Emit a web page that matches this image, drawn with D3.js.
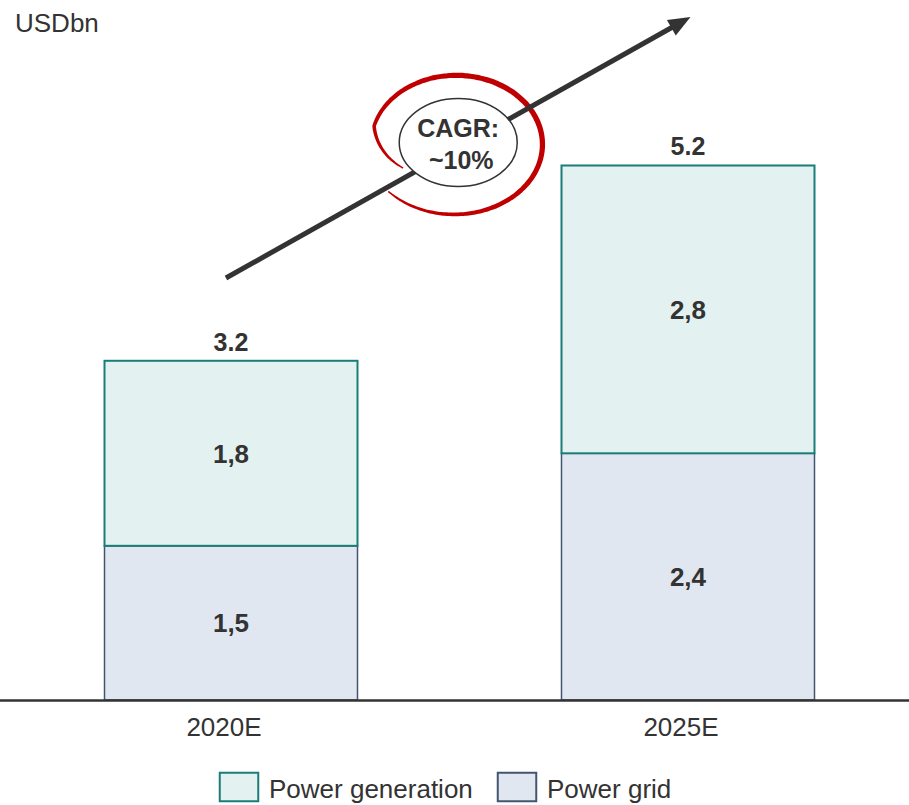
<!DOCTYPE html>
<html>
<head>
<meta charset="utf-8">
<script src="https://cdn.jsdelivr.net/npm/d3@7"></script>
<style>
  body { margin: 0; background: #fff; }
  svg text { font-family: "Liberation Sans", Arial, sans-serif; fill: #333; }
</style>
</head>
<body>
<svg id="chart"></svg>
<script>
// data
const years = ["2020E", "2025E"];
const powerGrid = [1.5, 2.4];
const powerGeneration = [1.8, 2.8];
const totalLabels = ["3.2", "5.2"];
const gridLabels = ["1,5", "2,4"];
const generationLabels = ["1,8", "2,8"];
const seriesNames = ["Power generation", "Power grid"];
const unitLabel = "USDbn";
const cagrLabel = ["CAGR:", "~10%"];

const width = 909, height = 805;
const baseY = 700;

const colors = {
    generation: { fill: "#e3f2f1", stroke: "#1a7d78" },
    grid: { fill: "#e1e7f1", stroke: "#44546f" }
};

const svg = d3.select("#chart")
    .attr("width", width)
    .attr("height", height);

var x = d3.scaleBand()
    .domain(years)
    .range([10, width])
    .paddingInner(0.4464)
    .paddingOuter(0.2068);

var y = d3.scaleLinear()
    .domain([0, 6.81])
    .range([baseY, 0]);

const bw = x.bandwidth();

// unit label
svg.append("text")
    .attr("x", 15)
    .attr("y", 32)
    .style("font-size", "26px")
    .text(unitLabel);

// bars
const bars = svg.selectAll(".bar")
    .data(years)
    .enter()
    .append("g")
    .attr("class", "bar");

bars.append("rect")
    .attr("x", d => x(d))
    .attr("width", bw)
    .attr("y", (d, i) => y(powerGrid[i]))
    .attr("height", (d, i) => y(0) - y(powerGrid[i]))
    .style("fill", colors.grid.fill)
    .style("stroke", colors.grid.stroke)
    .style("stroke-width", "1.5px");

bars.append("rect")
    .attr("x", d => x(d))
    .attr("width", bw)
    .attr("y", (d, i) => y(powerGrid[i] + powerGeneration[i]))
    .attr("height", (d, i) => y(powerGrid[i]) - y(powerGrid[i] + powerGeneration[i]))
    .style("fill", colors.generation.fill)
    .style("stroke", colors.generation.stroke)
    .style("stroke-width", "2px");

bars.append("text")
    .attr("x", d => x(d) + bw / 2)
    .attr("y", (d, i) => (y(0) + y(powerGrid[i])) / 2)
    .attr("dy", "0.36em")
    .attr("text-anchor", "middle")
    .style("font-size", "26px")
    .style("font-weight", "bold")
    .text((d, i) => gridLabels[i]);

bars.append("text")
    .attr("x", d => x(d) + bw / 2)
    .attr("y", (d, i) => (y(powerGrid[i]) + y(powerGrid[i] + powerGeneration[i])) / 2)
    .attr("dy", "0.36em")
    .attr("text-anchor", "middle")
    .style("font-size", "26px")
    .style("font-weight", "bold")
    .text((d, i) => generationLabels[i]);

bars.append("text")
    .attr("x", d => x(d) + bw / 2)
    .attr("y", (d, i) => y(powerGrid[i] + powerGeneration[i]) - 10)
    .attr("text-anchor", "middle")
    .style("font-size", "25px")
    .style("font-weight", "bold")
    .text((d, i) => totalLabels[i]);

// x axis
svg.append("line")
    .attr("x1", 0)
    .attr("x2", width)
    .attr("y1", baseY + 0.5)
    .attr("y2", baseY + 0.5)
    .style("stroke", "#333")
    .style("stroke-width", "2.5px");

svg.append("g")
    .attr("class", "xAxis")
    .attr("transform", "translate(0," + baseY + ")")
    .call(d3.axisBottom(x).tickSize(0).tickPadding(18))
    .call(g => g.select(".domain").remove())
    .call(g => g.selectAll(".tick text")
        .attr("dx", -7)
        .attr("dy", "0.71em")
        .style("font-size", "26px")
        .style("font-family", "'Liberation Sans', Arial, sans-serif")
        .style("fill", "#333"));

// growth arrow
const a0 = [x(years[0]) + 0.48 * bw, y(4.105)],
      a1 = [x(years[1]) + 0.51 * bw, y(6.645)];
const ang = Math.atan2(a1[1] - a0[1], a1[0] - a0[0]);
const headLen = 22, headHalf = 9;
const lineEnd = [a1[0] - (headLen - 2) * Math.cos(ang), a1[1] - (headLen - 2) * Math.sin(ang)];
const headBase = [a1[0] - headLen * Math.cos(ang), a1[1] - headLen * Math.sin(ang)];

// red loop (drawn as variable width stroke)
const mid = [(a0[0] + a1[0]) / 2, (a0[1] + a1[1]) / 2];
const loopC = [mid[0] - 3, mid[1] - 4], loopRx = 84, loopRy = 67;
const th0 = 149.5 * Math.PI / 180, th1 = 498 * Math.PI / 180;
const N = 160;
let pts = [];
for (let k = 0; k <= N; k++) {
    const t = k / N;
    const th = th0 + (th1 - th0) * t;
    const deg = th * 180 / Math.PI;
    let r = deg < 195 ? 0.72 + 0.28 * (deg - 149.5) / 45.5 : 1 + 0.07 * (deg - 195) / (498 - 195);
    pts.push([loopC[0] + loopRx * r * Math.cos(th), loopC[1] + loopRy * r * Math.sin(th), t]);
}
let left = [], right = [];
pts.forEach((p, k) => {
    const pa = pts[Math.max(0, k - 1)], pb = pts[Math.min(N, k + 1)];
    const dx = pb[0] - pa[0], dy = pb[1] - pa[1], len = Math.hypot(dx, dy);
    const nx = -dy / len, ny = dx / len;
    const w = 1.2 + 4.2 * Math.pow(Math.sin(Math.PI * p[2]), 0.6);
    left.push([p[0] + nx * w / 2, p[1] + ny * w / 2]);
    right.push([p[0] - nx * w / 2, p[1] - ny * w / 2]);
});
svg.append("path")
    .attr("d", d3.line().curve(d3.curveCatmullRomClosed)(left.concat(right.reverse())))
    .style("fill", "#c00000");

svg.append("line")
    .attr("x1", a0[0]).attr("y1", a0[1])
    .attr("x2", lineEnd[0]).attr("y2", lineEnd[1])
    .style("stroke", "#333")
    .style("stroke-width", "5px");

svg.append("path")
    .attr("d", d3.line()([
        a1,
        [headBase[0] + headHalf * Math.sin(ang), headBase[1] - headHalf * Math.cos(ang)],
        [headBase[0] - headHalf * Math.sin(ang), headBase[1] + headHalf * Math.cos(ang)]
    ]) + "Z")
    .style("fill", "#333");

// CAGR bubble
const bubble = svg.append("g")
    .attr("transform", "translate(" + mid[0] + "," + (mid[1] - 5) + ")");
bubble.append("ellipse")
    .attr("rx", 59)
    .attr("ry", 44)
    .style("fill", "#fff")
    .style("stroke", "#333")
    .style("stroke-width", "1.5px");
bubble.append("text")
    .attr("y", -6)
    .attr("text-anchor", "middle")
    .style("font-size", "25px")
    .style("font-weight", "bold")
    .text(cagrLabel[0]);
bubble.append("text")
    .attr("x", 3)
    .attr("y", 26)
    .attr("text-anchor", "middle")
    .style("font-size", "25px")
    .style("font-weight", "bold")
    .text(cagrLabel[1]);

// legend
const legendX = [219, 497];
const legendColors = [colors.generation, colors.grid];
const legend = svg.selectAll(".legendItem")
    .data(seriesNames)
    .enter()
    .append("g")
    .attr("class", "legendItem")
    .attr("transform", (d, i) => "translate(" + legendX[i] + ",772)");
legend.append("rect")
    .attr("x", 0.75)
    .attr("y", 0.75)
    .attr("width", 38.5)
    .attr("height", 28.5)
    .style("fill", (d, i) => legendColors[i].fill)
    .style("stroke", (d, i) => legendColors[i].stroke)
    .style("stroke-width", "2px");
legend.append("text")
    .attr("x", 50)
    .attr("y", 26)
    .style("font-size", "26px")
    .text(d => d);
</script>
</body>
</html>
